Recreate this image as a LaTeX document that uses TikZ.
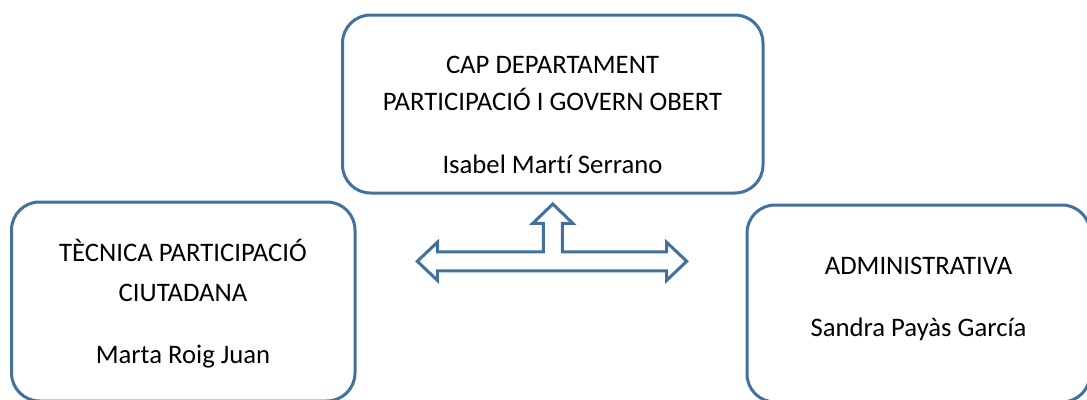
\documentclass[tikz,border=0pt]{standalone}
\usepackage{fontspec}
\setmainfont{Carlito}[Ligatures=NoCommon]
\usepackage{tikz}
\definecolor{boxblue}{HTML}{41719C}

\tikzset{
  box/.style={draw=boxblue, line width=3pt, rounded corners=28pt, fill=white},
  lbl/.style={anchor=base, inner sep=0pt, font=\fontsize{26.7}{32}\selectfont},
}

\begin{document}
\begin{tikzpicture}[x=1pt, y=-1pt]

% Page frame
\useasboundingbox (0,0) rectangle (1087,399);

% Boxes
\node[box, minimum width=420.5pt, minimum height=178pt] (cap) at (552.75,104) {}; % Head of department
\node[box, minimum width=343.5pt, minimum height=199pt] (tec) at (183.25,301.5) {}; % Technician
\node[box, minimum width=343pt, minimum height=197pt] (adm) at (918.5,303.5) {}; % Administrative

% Block arrow between the boxes
\draw[boxblue, line width=3pt, line join=miter, fill=white]
  (417.3,261.3) -- (437.3,242.3) -- (437.3,251.8) -- (543.3,251.8)
  -- (543.3,223.3) -- (532.8,223.3) -- (552.8,204) -- (572.8,223.3)
  -- (562.3,223.3) -- (562.3,251.8) -- (666.7,251.8) -- (666.7,242.3)
  -- (686.7,261.3) -- (666.7,280.3) -- (666.7,270.8) -- (437.3,270.8)
  -- (437.3,280.3) -- cycle;

% Labels, top box
\node[lbl] (capA) at (552.5,73) {CAP DEPARTAMENT};
\node[lbl] (capB) at (552.5,110) {PARTICIPACIÓ I GOVERN OBERT};
\node[lbl] (capN) at (552.5,173) {Isabel Martí Serrano};

% Labels, left box
\node[lbl] (tecA) at (183,261.7) {TÈCNICA PARTICIPACIÓ};
\node[lbl] (tecB) at (183,301) {CIUTADANA};
\node[lbl] (tecN) at (183,363) {Marta Roig Juan};

% Labels, right box
\node[lbl] (admA) at (918.5,274.3) {ADMINISTRATIVA};
\node[lbl] (admN) at (918.5,336.7) {Sandra Payàs García};

\end{tikzpicture}
\end{document}
